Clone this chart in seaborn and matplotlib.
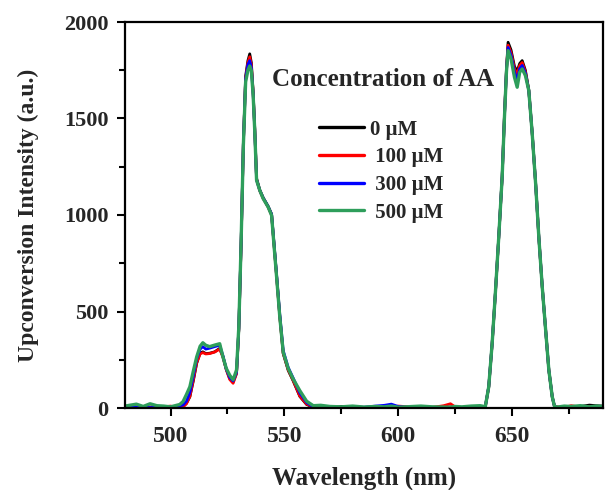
import numpy as np
import pandas as pd
import matplotlib
matplotlib.use("Agg")
import matplotlib.pyplot as plt
from matplotlib.ticker import MultipleLocator
import seaborn as sns

# ---------------- data ----------------
wavelength = [
    480, 482, 485, 488, 491, 494, 497, 500, 502, 504,
    505.5, 507, 508.5, 510, 511.5, 513, 514.2, 515.5, 517.2, 519.4, 521.6, 523, 524.5, 526, 527.5, 529,
    530, 531, 532, 533, 534, 534.8, 535.5, 536.3, 537, 537.8, 539.2, 540.7, 542.9, 544.4, 545.4, 546.6,
    548, 549.5, 551.7, 553.9, 556.8, 559.8, 562.7,
    566, 570, 575, 580, 585, 590, 594, 597, 600, 605, 610, 615, 620, 623, 625, 628, 632, 636,
    638.3, 639.8, 641.3, 642.7, 644.2, 645.7, 646.7, 647.6, 648.3, 649.6, 651.1, 652.3, 653.4, 654.5,
    655.9, 657.4, 658.9, 660.4, 661.8, 663.3, 664.8, 666.2, 667.7, 668.7,
    670, 673, 676, 680, 684, 687, 690,
]

int_0uM = [
    8, 5, 3, 6, 4, 7, 3, 2, 3, 5,
    7, 25, 58, 140, 232, 285, 291, 282, 284, 291, 309, 268, 200, 153, 135, 180,
    410, 845, 1370, 1720, 1800, 1835, 1790, 1640, 1450, 1190, 1130, 1090, 1045, 1005, 860, 685,
    475, 282, 195, 140, 60, 18, 4,
    3, 2, 8, 3, 2, 4, 3, 6, 2, 3, 2, 4, 3, 5, 2, 3, 2, 4,
    8, 110, 335, 593, 886, 1200, 1515, 1760, 1895, 1855, 1770, 1745, 1785, 1800,
    1750, 1648, 1425, 1165, 888, 630, 405, 198, 58, 8,
    4, 3, 6, 8, 15, 12, 10,
]

int_100uM = [
    5, 3, 6, 2, 5, 3, 6, 10, 4, 3,
    6, 22, 60, 145, 235, 280, 287, 280, 282, 290, 305, 265, 198, 148, 128, 178,
    408, 842, 1365, 1710, 1790, 1820, 1778, 1632, 1444, 1185, 1126, 1086, 1040, 1000, 856, 682,
    475, 285, 198, 143, 62, 20, 6,
    4, 3, 2, 6, 3, 5, 8, 4, 10, 6, 4, 3, 12, 22, 6, 3, 4, 2,
    7, 108, 333, 590, 884, 1196, 1510, 1752, 1880, 1842, 1758, 1728, 1775, 1790,
    1742, 1645, 1422, 1163, 886, 628, 404, 197, 58, 8,
    6, 3, 12, 5, 8, 4, 6,
]

int_300uM = [
    4, 6, 3, 5, 2, 4, 3, 5, 8, 12,
    15, 35, 80, 165, 255, 305, 318, 305, 310, 318, 325, 272, 202, 158, 140, 185,
    412, 848, 1368, 1705, 1780, 1800, 1765, 1625, 1440, 1182, 1128, 1088, 1043, 1003, 862, 690,
    485, 298, 210, 155, 78, 28, 6,
    4, 3, 2, 5, 4, 10, 14, 20, 8, 3, 4, 2, 3, 4, 2, 3, 5, 3,
    7, 110, 334, 592, 885, 1198, 1508, 1750, 1868, 1828, 1742, 1700, 1758, 1775,
    1735, 1645, 1422, 1163, 887, 629, 404, 197, 58, 8,
    3, 4, 2, 6, 3, 5, 4,
]

int_500uM = [
    10, 14, 20, 8, 22, 12, 10, 6, 12, 18,
    33, 70, 110, 190, 265, 320, 338, 325, 318, 326, 333, 266, 205, 170, 146, 197,
    421, 853, 1360, 1690, 1750, 1772, 1748, 1620, 1436, 1180, 1128, 1085, 1041, 998, 852, 679,
    472, 290, 205, 150, 90, 35, 12,
    14, 8, 6, 10, 5, 8, 6, 10, 4, 7, 10, 6, 5, 4, 8, 6, 10, 12,
    7, 110, 335, 593, 886, 1197, 1505, 1745, 1852, 1809, 1714, 1662, 1740, 1757,
    1723, 1645, 1421, 1162, 886, 628, 404, 197, 58, 8,
    5, 10, 8, 12, 6, 10, 8,
]

series_labels = ["0 μM", " 100 μM", " 300 μM", " 500 μM"]
series_values = [int_0uM, int_100uM, int_300uM, int_500uM]
series_colors = ["#000000", "#FF0000", "#0000FF", "#2E9E5B"]
series_widths = [2.0, 2.0, 2.0, 2.4]

x_ticks = [500, 550, 600, 650]
y_ticks = [0, 500, 1000, 1500, 2000]

# ---------------- style ----------------
sns.set_style("ticks")
plt.rcParams["font.family"] = ["Liberation Serif", "DejaVu Serif"]
plt.rcParams["font.weight"] = "bold"
plt.rcParams["axes.labelweight"] = "bold"

fig = plt.figure(figsize=(6.05, 4.90), dpi=100)
ax = fig.add_axes([125 / 605, (490 - 408) / 490, (603 - 125) / 605, (408 - 22) / 490])

for lab, vals, col, lw in zip(series_labels, series_values, series_colors, series_widths):
    df = pd.DataFrame({"Wavelength": wavelength, "Intensity": vals})
    sns.lineplot(data=df, x="Wavelength", y="Intensity", color=col, lw=lw,
                 label=lab, ax=ax, estimator=None)

ax.set_xlim(480, 690)
ax.set_ylim(0, 2000)
ax.set_xticks(x_ticks)
ax.set_yticks(y_ticks)
ax.xaxis.set_minor_locator(MultipleLocator(25))
ax.yaxis.set_minor_locator(MultipleLocator(250))

for s in ax.spines.values():
    s.set_linewidth(1.6)
    s.set_visible(True)
    s.set_color("black")

ax.tick_params(axis="both", which="major", direction="out", length=6, width=1.5, color="black")
ax.tick_params(axis="both", which="minor", direction="out", length=4, width=1.5, color="black")
ax.tick_params(axis="x", which="major", labelsize=17, pad=7)
ax.tick_params(axis="y", which="major", labelsize=16, pad=6)
for t in ax.get_xticklabels() + ax.get_yticklabels():
    t.set_fontweight("bold")

ax.set_xlabel("Wavelength (nm)", fontsize=18, fontweight="bold", labelpad=14)
ax.set_ylabel("Upconversion Intensity (a.u.)", fontsize=17, fontweight="bold", labelpad=18)

ax.text(0.54, 0.85, "Concentration of AA", transform=ax.transAxes, ha="center", va="center",
        fontsize=18, fontweight="bold")

handles, labels = ax.get_legend_handles_labels()
leg = ax.legend(handles, labels, loc="upper left", bbox_to_anchor=(0.405, 0.747),
                frameon=False, handlelength=2.2, handletextpad=0.25,
                labelspacing=0.37, borderpad=0, borderaxespad=0,
                prop={"family": "Liberation Serif", "weight": "bold", "size": 15})
for h in leg.get_lines():
    h.set_linewidth(2.4)

fig.savefig("out.png", dpi=100, facecolor="white")
